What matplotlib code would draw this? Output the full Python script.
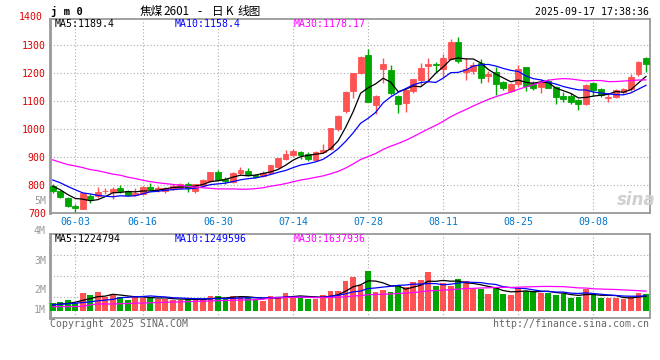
import matplotlib
matplotlib.use('Agg')
import matplotlib.pyplot as plt
import numpy as np
import pandas as pd

# trading days shown (dragon boat holiday on 06-02)
days = pd.bdate_range('2025-05-28', '2025-09-17').drop(pd.Timestamp('2025-06-02'))
dates = [d.strftime('%m-%d') for d in days]
tick_labels = ['06-03', '06-16', '06-30', '07-14', '07-28', '08-11', '08-25', '09-08']
price_ticks = [700, 800, 900, 1000, 1100, 1200, 1300]

opens = [795, 778, 755, 726, 715, 760, 761, 777, 776, 790, 779, 764, 767, 793, 785, 780, 786, 790, 804, 778,
         799, 814, 846, 820, 810, 843, 850, 834, 831, 842, 865, 892, 908, 919, 912, 889, 917, 928, 999, 1064,
         1136, 1201, 1264, 1087, 1215, 1211, 1118, 1094, 1137, 1175, 1226, 1231, 1213, 1249, 1311, 1205, 1207, 1235, 1190, 1205,
         1167, 1136, 1160, 1220, 1163, 1151, 1173, 1151, 1118, 1118, 1104, 1089, 1163, 1142, 1112, 1113, 1133, 1143, 1195, 1254]
highs = [803, 780, 757, 732, 771, 767, 794, 790, 794, 801, 781, 790, 797, 808, 798, 792, 805, 808, 811, 805,
         820, 847, 855, 829, 846, 864, 861, 840, 849, 873, 898, 925, 929, 921, 917, 921, 947, 1005, 1050, 1135,
         1200, 1260, 1286, 1120, 1254, 1229, 1120, 1141, 1180, 1235, 1255, 1238, 1268, 1321, 1328, 1254, 1238, 1250, 1208, 1222,
         1170, 1163, 1229, 1223, 1170, 1178, 1180, 1153, 1133, 1127, 1106, 1160, 1169, 1146, 1124, 1143, 1146, 1195, 1243, 1258]
lows = [772, 753, 722, 705, 714, 735, 755, 768, 751, 770, 760, 761, 765, 779, 776, 773, 782, 785, 776, 773,
        797, 812, 814, 805, 806, 836, 832, 825, 828, 839, 862, 888, 901, 892, 887, 885, 913, 925, 993, 1058,
        1112, 1198, 1096, 1054, 1163, 1121, 1058, 1062, 1130, 1154, 1169, 1205, 1187, 1245, 1235, 1175, 1197, 1165, 1169, 1121,
        1141, 1133, 1151, 1136, 1140, 1130, 1145, 1089, 1097, 1090, 1068, 1085, 1118, 1115, 1098, 1110, 1125, 1137, 1190, 1205]
closes = [778, 757, 724, 718, 770, 750, 776, 779, 785, 778, 764, 772, 794, 787, 789, 789, 796, 802, 791, 803,
          818, 846, 818, 815, 843, 853, 836, 830, 844, 870, 896, 912, 920, 908, 892, 919, 926, 1003, 1046, 1133,
          1199, 1258, 1098, 1118, 1233, 1130, 1088, 1139, 1179, 1217, 1231, 1229, 1254, 1311, 1244, 1213, 1229, 1183, 1195, 1160,
          1145, 1161, 1213, 1154, 1145, 1169, 1148, 1115, 1107, 1096, 1089, 1157, 1139, 1121, 1115, 1139, 1142, 1186, 1241, 1231]
# volume in millions of lots
volumes = [0.64, 0.74, 0.91, 0.64, 1.49, 1.32, 1.57, 1.13, 1.40, 1.18, 0.93, 1.24, 1.07, 1.13, 0.99, 0.99, 0.91, 0.91, 1.07, 0.91,
           0.91, 1.24, 1.24, 1.07, 1.24, 1.16, 1.16, 0.93, 0.85, 1.24, 1.16, 1.49, 1.24, 1.10, 1.02, 0.99, 1.32, 1.68, 1.68, 2.50,
           2.81, 2.15, 3.33, 1.57, 1.76, 1.57, 2.15, 1.96, 2.40, 2.56, 3.25, 2.09, 2.34, 2.07, 2.64, 2.50, 1.84, 1.79, 1.40, 2.01,
           1.40, 1.32, 1.90, 1.68, 1.63, 1.51, 1.46, 1.35, 1.40, 1.07, 1.18, 1.79, 1.38, 1.07, 1.07, 1.07, 0.99, 1.18, 1.46, 1.38]

# moving average values before enough history is on screen
ma5_head = [796, 783, 766, 752]
ma10_head = [818, 808, 795, 783, 772, 768, 763, 760, 758]
ma30_head = [890, 881, 873, 868, 862, 855, 851, 845, 839, 835, 828, 823, 817, 812, 808,
             805, 802, 799, 795, 792, 790, 788, 786, 786, 786, 785, 785, 787, 790]
vma5_head = [0.50, 0.57, 0.62, 0.72]
vma10_head = [0.52, 0.56, 0.60, 0.64, 0.70, 0.76, 0.84, 0.90, 0.96]
vma30_head = [0.36, 0.36, 0.36, 0.36, 0.40, 0.50, 0.58, 0.58, 0.58, 0.60, 0.62, 0.64, 0.66, 0.68, 0.70,
              0.72, 0.74, 0.75, 0.77, 0.79, 0.81, 0.83, 0.85, 0.87, 0.89, 0.90, 0.92, 0.94, 0.97]


def moving(vals, n, head):
    s = pd.Series(vals, dtype=float).rolling(n).mean()
    s.iloc[:n - 1] = head
    return s.values


RED = '#FF5252'
GREEN = '#00A600'
GRID = dict(color='#aaaaaa', linestyle=(0, (1, 2)), linewidth=0.8)
MONO = 'DejaVu Sans Mono'
FS = 7.1
W, H = 660, 360

x = np.arange(len(dates))
o, h, l, c = map(np.array, (opens, highs, lows, closes))
up = c >= o
cols = np.where(up, RED, GREEN)
xt = [dates.index(t) for t in tick_labels]

fig = plt.figure(figsize=(6.6, 3.6), dpi=100)
fig.patch.set_facecolor('white')
ax = fig.add_axes([50 / W, 1 - 213 / H, 599.5 / W, 194 / H])
axv = fig.add_axes([50 / W, 1 - 318 / H, 599.5 / W, 84 / H])

# price panel
ax.vlines(x, l, h, colors=cols, linewidth=1.0, zorder=3)
ax.bar(x, np.abs(c - o), bottom=np.minimum(o, c), width=0.78, color=cols,
       edgecolor=cols, linewidth=0.6, zorder=4)
ax.plot(x, moving(closes, 5, ma5_head), color='black', lw=0.9, zorder=5)
ax.plot(x, moving(closes, 10, ma10_head), color='#0000FF', lw=0.9, zorder=5)
ax.plot(x, moving(closes, 30, ma30_head), color='#FF00FF', lw=0.9, zorder=5)
ax.set_xlim(-0.36, 79.47)
ax.set_ylim(700, 700 + 194 / 0.28)
ax.set_yticks(price_ticks)
ax.set_yticklabels([str(t) for t in price_ticks], color='#DD0000', family=MONO, fontsize=FS)
ax.set_xticks(xt)
ax.set_xticklabels(tick_labels, color='#0077CC', family=MONO, fontsize=FS)
ax.tick_params(length=0, pad=3)
ax.grid(True, **GRID)
ax.text(-0.012, 1400, '1400', transform=ax.get_yaxis_transform(), ha='right', va='center',
        color='#DD0000', family=MONO, fontsize=FS, clip_on=False)

# volume panel
axv.bar(x, volumes, width=0.76, color=cols, zorder=3)
axv.plot(x, moving(volumes, 5, vma5_head), color='black', lw=0.9, zorder=5)
axv.plot(x, moving(volumes, 10, vma10_head), color='#0000FF', lw=0.9, zorder=5)
axv.plot(x, moving(volumes, 30, vma30_head), color='#FF00FF', lw=0.9, zorder=5)
axv.set_xlim(-0.36, 79.47)
vlo, vhi = -7 / 12.1, 77 / 12.1
axv.set_ylim(vlo, vhi)
axv.set_yticks([vlo + (vhi - vlo) * f for f in (0.25, 0.5, 0.75)])
axv.set_yticklabels([])
axv.set_xticks(xt)
axv.set_xticklabels([])
axv.tick_params(length=0)
axv.grid(True, **GRID)

for a in (ax, axv):
    a.set_axisbelow(True)
    for sp in a.spines.values():
        sp.set_color('#999999')
        sp.set_linewidth(1.3)
    a.spines['left'].set_linewidth(2)

# volume scale labels as drawn by the site
for lab, yy in zip(['1M', '2M', '3M', '4M', '5M'], [310, 290, 261, 231, 201]):
    fig.text(46 / W, 1 - yy / H, lab, ha='right', va='center', color='#999999',
             family=MONO, fontsize=FS)

# legends
for txt, xx, col in [('MA5:1189.4', 55, 'black'), ('MA10:1158.4', 175, '#0000FF'),
                     ('MA30:1178.17', 294, '#FF00FF')]:
    fig.text(xx / W, 1 - 24 / H, txt, color=col, family=MONO, fontsize=FS, va='center')
for txt, xx, col in [('MA5:1224794', 55, 'black'), ('MA10:1249596', 175, '#0000FF'),
                     ('MA30:1637936', 294, '#FF00FF')]:
    fig.text(xx / W, 1 - 239 / H, txt, color=col, family=MONO, fontsize=FS, va='center')

# header
fig.text(51 / W, 1 - 15 / H, 'j m 0', fontsize=7.6, fontweight='bold', family=MONO,
         va='baseline', color='black')
for txt, xx in [('焦煤', 140), ('2601', 163), ('-', 197), ('日', 212), ('K', 226), ('线图', 237)]:
    fig.text(xx / W, 1 - 15 / H, txt, fontsize=8.4, va='baseline', color='black',
             family=['Noto Sans CJK SC', 'DejaVu Sans'])
fig.text(649 / W, 1 - 15 / H, '2025-09-17 17:38:36', ha='right', va='baseline',
         family=MONO, fontsize=FS, color='black')

# footer
fig.text(50 / W, 1 - 324 / H, 'Copyright 2025 SINA.COM', va='center', family=MONO,
         fontsize=FS, color='#666666')
fig.text(649 / W, 1 - 324 / H, 'http://finance.sina.com.cn', ha='right', va='center',
         family=MONO, fontsize=FS, color='#666666')

# watermark
fig.text(636 / W, 1 - 200 / H, 'sina', ha='center', va='center', fontsize=12,
         fontstyle='italic', fontweight='bold', color='#d0d0d0')

fig.savefig('out.png', dpi=100)
